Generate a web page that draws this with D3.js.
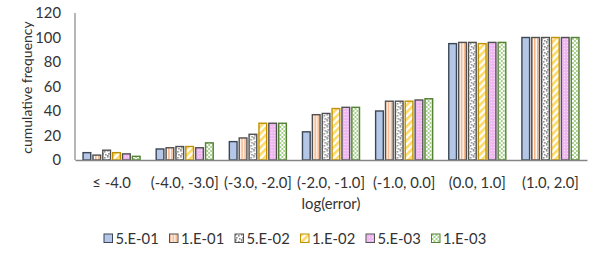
<!DOCTYPE html>
<html>
<head>
<meta charset="utf-8">
<script src="https://cdn.jsdelivr.net/npm/d3@7"></script>
<style>
  body { margin: 0; background: #fff; }
  text { font-family: Lato, "Open Sans", sans-serif; fill: #333; }
</style>
</head>
<body>
<div id="chart"></div>
<script>
const categories = ["≤ -4.0", "(-4.0, -3.0]", "(-3.0, -2.0]", "(-2.0, -1.0]", "(-1.0, 0.0]", "(0.0, 1.0]", "(1.0, 2.0]"];
const seriesNames = ["5.E-01", "1.E-01", "5.E-02", "1.E-02", "5.E-03", "1.E-03"];
const s5e01 = [6, 9, 15, 23, 40, 95, 100];
const s1e01 = [4, 10, 18, 37, 48, 96, 100];
const s5e02 = [8, 11, 21, 38, 48, 96, 100];
const s1e02 = [6, 11, 30, 42, 48, 95, 100];
const s5e03 = [5, 10, 30, 43, 49, 96, 100];
const s1e03 = [3, 14, 30, 43, 50, 96, 100];
const yTicks = [0, 20, 40, 60, 80, 100, 120];

const seriesValues = [s5e01, s1e01, s5e02, s1e02, s5e03, s1e03];
const strokes = ["#3b4656", "#505050", "#505050", "#bf9000", "#505050", "#548235"];

const width = 598, height = 260;
const margin = { top: 13, right: 11, bottom: 100, left: 75 };
const fontSize = "14.8px";

const svg = d3.select("#chart").append("svg")
    .attr("width", width)
    .attr("height", height);

// fill patterns, roughly like the office ones
const defs = svg.append("defs");

// vertical orange stripes
const p2 = defs.append("pattern").attr("id", "pat1").attr("patternUnits", "userSpaceOnUse")
    .attr("width", 3).attr("height", 3);
p2.append("rect").attr("width", 3).attr("height", 3).attr("fill", "#fff");
p2.append("rect").attr("width", 1.6).attr("height", 3).attr("fill", "#f4b183");

// gray confetti
const p3 = defs.append("pattern").attr("id", "pat2").attr("patternUnits", "userSpaceOnUse")
    .attr("width", 6).attr("height", 6);
p3.append("rect").attr("width", 6).attr("height", 6).attr("fill", "#fff");
[[0, 0], [3, 1], [1, 3], [4, 4], [0, 5]].forEach(([x, y]) => {
    p3.append("rect").attr("x", x).attr("y", y).attr("width", 1.6).attr("height", 1.6).attr("fill", "#8a8a8a");
});

// yellow diagonal stripes
const p4 = defs.append("pattern").attr("id", "pat3").attr("patternUnits", "userSpaceOnUse")
    .attr("width", 5).attr("height", 5).attr("patternTransform", "rotate(45)");
p4.append("rect").attr("width", 5).attr("height", 5).attr("fill", "#fff");
p4.append("rect").attr("width", 2.6).attr("height", 5).attr("fill", "#ffd966");

// pink small dots
const p5 = defs.append("pattern").attr("id", "pat4").attr("patternUnits", "userSpaceOnUse")
    .attr("width", 3).attr("height", 3);
p5.append("rect").attr("width", 3).attr("height", 3).attr("fill", "#f0b8f0");
p5.append("rect").attr("width", 1).attr("height", 1).attr("fill", "#fbe6fb");

// green checker
const p6 = defs.append("pattern").attr("id", "pat5").attr("patternUnits", "userSpaceOnUse")
    .attr("width", 4).attr("height", 4);
p6.append("rect").attr("width", 4).attr("height", 4).attr("fill", "#fff");
p6.append("rect").attr("width", 2).attr("height", 2).attr("fill", "#a9d18e");
p6.append("rect").attr("x", 2).attr("y", 2).attr("width", 2).attr("height", 2).attr("fill", "#a9d18e");

const fills = ["#b4c7e7", "url(#pat1)", "url(#pat2)", "url(#pat3)", "url(#pat4)", "url(#pat5)"];

const x0 = d3.scaleBand()
    .domain(categories)
    .range([margin.left, width - margin.right])
    .paddingInner(0.22)
    .paddingOuter(0.11);

const x1 = d3.scaleBand()
    .domain(seriesNames)
    .range([0, x0.bandwidth()])
    .paddingInner(0.22);

const y = d3.scaleLinear()
    .domain([0, 120])
    .range([height - margin.bottom, margin.top]);

// y axis: labels only plus a plain line
const yAxis = svg.append("g")
    .attr("transform", `translate(${margin.left},0)`)
    .call(d3.axisLeft(y).tickValues(yTicks).tickSize(0).tickPadding(14));
yAxis.select(".domain").remove();
yAxis.selectAll("text").style("font-size", fontSize).attr("fill", "#333");
svg.append("line")
    .attr("x1", margin.left).attr("x2", margin.left)
    .attr("y1", y(120)).attr("y2", y(0))
    .attr("stroke", "#868686").attr("stroke-width", 1.2);

// bars
const groups = svg.append("g").selectAll("g")
    .data(categories)
    .join("g")
    .attr("transform", d => `translate(${x0(d)},0)`);

groups.selectAll("rect")
    .data((c, ci) => seriesNames.map((s, si) => ({ s, si, v: seriesValues[si][ci] })))
    .join("rect")
    .attr("x", d => x1(d.s))
    .attr("y", d => y(d.v))
    .attr("width", x1.bandwidth())
    .attr("height", d => y(0) - y(d.v))
    .attr("fill", d => fills[d.si])
    .attr("stroke", d => strokes[d.si])
    .attr("stroke-width", 1.4);

// x axis
const xAxis = svg.append("g")
    .attr("transform", `translate(0,${y(0)})`)
    .call(d3.axisBottom(x0).tickSize(0).tickPadding(17));
xAxis.select(".domain").attr("stroke", "#868686").attr("stroke-width", 1.5);
xAxis.selectAll("text").style("font-size", fontSize).attr("fill", "#333");

// axis titles
svg.append("text")
    .attr("x", (margin.left + width - margin.right) / 2)
    .attr("y", 209)
    .attr("text-anchor", "middle")
    .style("font-size", fontSize)
    .text("log(error)");

svg.append("text")
    .attr("transform", `translate(32,${(y(0) + y(120)) / 2 + 1}) rotate(-90)`)
    .attr("text-anchor", "middle")
    .style("font-size", "14px")
    .text("cumulative frequency");

// legend
const legend = svg.append("g")
    .selectAll("g")
    .data(seriesNames)
    .join("g")
    .attr("transform", (d, i) => `translate(${104 + i * 65.5},234)`);

legend.append("rect")
    .attr("width", 8.5).attr("height", 8.5)
    .attr("fill", (d, i) => fills[i])
    .attr("stroke", (d, i) => strokes[i])
    .attr("stroke-width", 1);

legend.append("text")
    .attr("x", 11.5)
    .attr("y", 10)
    .style("font-size", fontSize)
    .text(d => d);
</script>
</body>
</html>
